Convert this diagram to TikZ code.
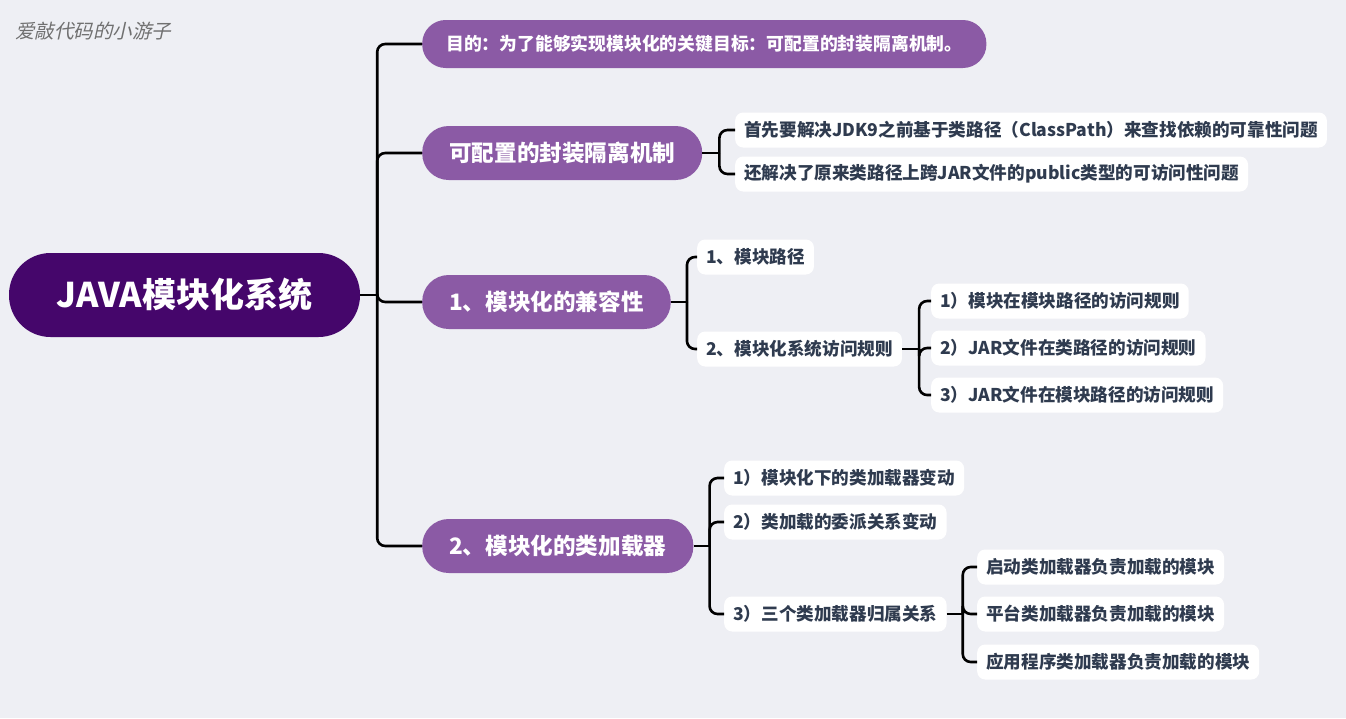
\documentclass[tikz,border=0pt]{standalone}
\usepackage{fontspec}
\setmainfont{Noto Sans CJK SC}
\newfontfamily\wmfont{Noto Sans CJK SC}[FakeSlant=0.22]
\definecolor{bg}{HTML}{EEEFF4}
\definecolor{rootc}{HTML}{45066B}
\definecolor{lvone}{HTML}{8B5AA5}
\definecolor{leaftxt}{HTML}{2F3B4F}
\definecolor{wm}{HTML}{707070}
\begin{document}
\begin{tikzpicture}[x=1pt,y=-1pt,
 conn/.style={line width=2.6pt, rounded corners=8pt, draw=black},
 rootbox/.style={fill=rootc, text=white, font=\fontsize{34}{40}\selectfont\bfseries, rounded corners=41.5pt, minimum height=84pt, minimum width=351pt, inner sep=0pt},
 topic/.style={fill=lvone, text=white, font=\fontsize{22.6}{26}\selectfont\bfseries, rounded corners=26.5pt, minimum height=54pt, inner xsep=27pt, inner ysep=0pt, anchor=west},
 leaf/.style={fill=white, text=leaftxt, font=\fontsize{17.6}{20}\selectfont\bfseries, rounded corners=8pt, minimum height=35pt, inner xsep=9pt, inner ysep=0pt, anchor=west},
]
\fill[bg] (0,0) rectangle (1346,718);
\useasboundingbox (0,0) rectangle (1346,718);

\node[anchor=west, text=wm, font=\fontsize{19.5}{22}\selectfont\wmfont, inner sep=0pt] (wm) at (15,31) {爱敲代码的小游子};

\node[rootbox] (root) at (184.5,295) {JAVA模块化系统};

\node[topic, minimum height=48pt, rounded corners=23.5pt, inner xsep=24pt, font=\fontsize{17.8}{21}\selectfont\bfseries] (a) at (422,44) {目的：为了能够实现模块化的关键目标：可配置的封装隔离机制。};
\node[topic] (b) at (422,153) {可配置的封装隔离机制};
\node[topic] (c) at (422,302) {1、模块化的兼容性};
\node[topic] (d) at (422,546) {2、模块化的类加载器};

\node[leaf] (b1) at (735,130) {首先要解决JDK9之前基于类路径（ClassPath）来查找依赖的可靠性问题};
\node[leaf] (b2) at (735,174) {还解决了原来类路径上跨JAR文件的public类型的可访问性问题};

\node[leaf] (c1) at (697,257) {1、模块路径};
\node[leaf] (c2) at (697,349) {2、模块化系统访问规则};
\node[leaf] (c21) at (931,301) {1）模块在模块路径的访问规则};
\node[leaf] (c22) at (931,348) {2）JAR文件在类路径的访问规则};
\node[leaf] (c23) at (931,395) {3）JAR文件在模块路径的访问规则};

\node[leaf] (d1) at (724,478) {1）模块化下的类加载器变动};
\node[leaf] (d2) at (724,522) {2）类加载的委派关系变动};
\node[leaf] (d3) at (724,614) {3）三个类加载器归属关系};
\node[leaf] (d31) at (977,567) {启动类加载器负责加载的模块};
\node[leaf] (d32) at (977,614) {平台类加载器负责加载的模块};
\node[leaf] (d33) at (977,662) {应用程序类加载器负责加载的模块};

\coordinate (j0) at ([xshift=17pt]root.east);
\draw[conn] (root.east) -- (j0);
\foreach \t in {a,b,c,d} \draw[conn] (j0) |- (\t.west);

\coordinate (jb) at ([xshift=17pt]b.east);
\draw[conn] (b.east) -- (jb);
\foreach \t in {b1,b2} \draw[conn] (jb) |- (\t.west);

\coordinate (jc) at ([xshift=16pt]c.east);
\draw[conn] (c.east) -- (jc);
\foreach \t in {c1,c2} \draw[conn] (jc) |- (\t.west);

\coordinate (jc2) at ([xshift=17pt]c2.east);
\draw[conn] (c2.east) -- (jc2);
\foreach \t in {c21,c22,c23} \draw[conn] (jc2) |- (\t.west);

\coordinate (jd) at ([xshift=16pt]d.east);
\draw[conn] (d.east) -- (jd);
\foreach \t in {d1,d2,d3} \draw[conn] (jd) |- (\t.west);

\coordinate (jd3) at ([xshift=16pt]d3.east);
\draw[conn] (d3.east) -- (jd3);
\foreach \t in {d31,d32,d33} \draw[conn] (jd3) |- (\t.west);
\end{tikzpicture}
\end{document}
